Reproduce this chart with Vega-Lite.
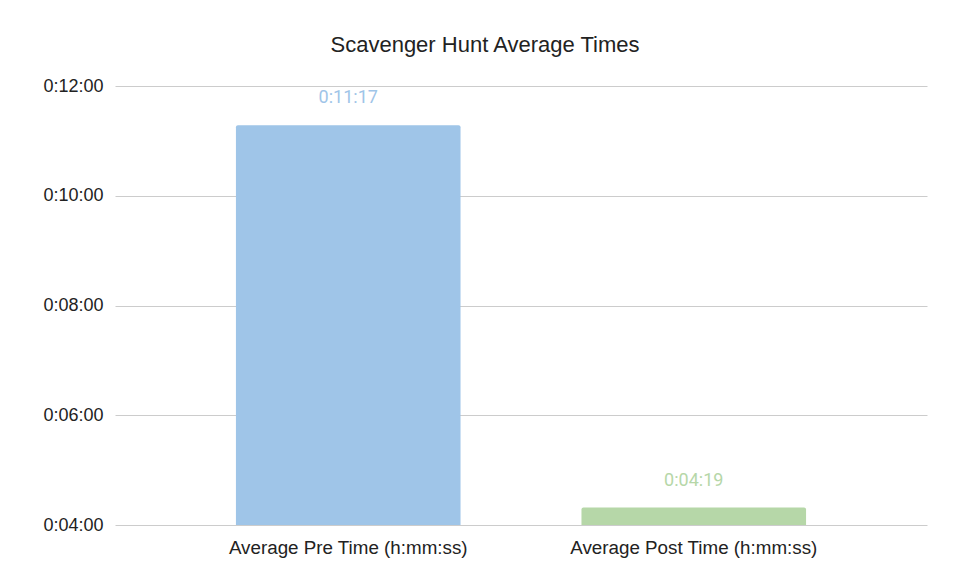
{
  "$schema": "https://vega.github.io/schema/vega-lite/v6.json",
  "width": 812,
  "height": 439,
  "autosize": {"type": "none"},
  "padding": {"left": 115, "top": 86, "right": 29, "bottom": 59},
  "background": "#ffffff",
  "title": {
    "text": "Scavenger Hunt Average Times",
    "font": "Liberation Sans",
    "fontSize": 22,
    "fontWeight": "normal",
    "color": "#222222",
    "anchor": "middle",
    "dx": -36,
    "offset": 20
  },
  "data": {
    "values": [
      {"category": "Average Pre Time (h:mm:ss)", "seconds": 677, "label": "0:11:17"},
      {"category": "Average Post Time (h:mm:ss)", "seconds": 259, "label": "0:04:19"}
    ]
  },
  "encoding": {
    "x": {
      "field": "category",
      "type": "nominal",
      "sort": null,
      "scale": {"paddingInner": 0.35, "paddingOuter": 0.35},
      "axis": {
        "title": null,
        "labelAngle": 0,
        "labelFont": "Liberation Sans",
        "labelFontSize": 18.8,
        "labelColor": "#222222",
        "labelLimit": 0,
        "ticks": false,
        "domain": false,
        "labelPadding": 13
      }
    },
    "y": {
      "field": "seconds",
      "type": "quantitative",
      "scale": {"domain": [240, 720], "zero": false, "nice": false},
      "axis": {
        "title": null,
        "values": [240, 360, 480, 600, 720],
        "labelExpr": "'0:' + (floor(datum.value/60) < 10 ? '0' : '') + floor(datum.value/60) + ':' + (datum.value % 60 < 10 ? '0' : '') + (datum.value % 60)",
        "labelFont": "Liberation Sans",
        "labelFontSize": 18,
        "labelColor": "#222222",
        "ticks": false,
        "domain": false,
        "labelPadding": 12,
        "gridColor": "#cccccc",
        "gridWidth": 1
      }
    },
    "color": {
      "field": "category",
      "type": "nominal",
      "sort": null,
      "scale": {"range": ["#9fc5e8", "#b6d7a8"]},
      "legend": null
    }
  },
  "layer": [
    {
      "mark": {"type": "bar", "cornerRadiusTopLeft": 2, "cornerRadiusTopRight": 2},
      "encoding": {"y2": {"datum": 240}}
    },
    {
      "mark": {
        "type": "text",
        "baseline": "bottom",
        "dy": -18,
        "font": "Roboto",
        "fontSize": 18
      },
      "encoding": {"text": {"field": "label"}}
    }
  ],
  "config": {"view": {"stroke": null}}
}
